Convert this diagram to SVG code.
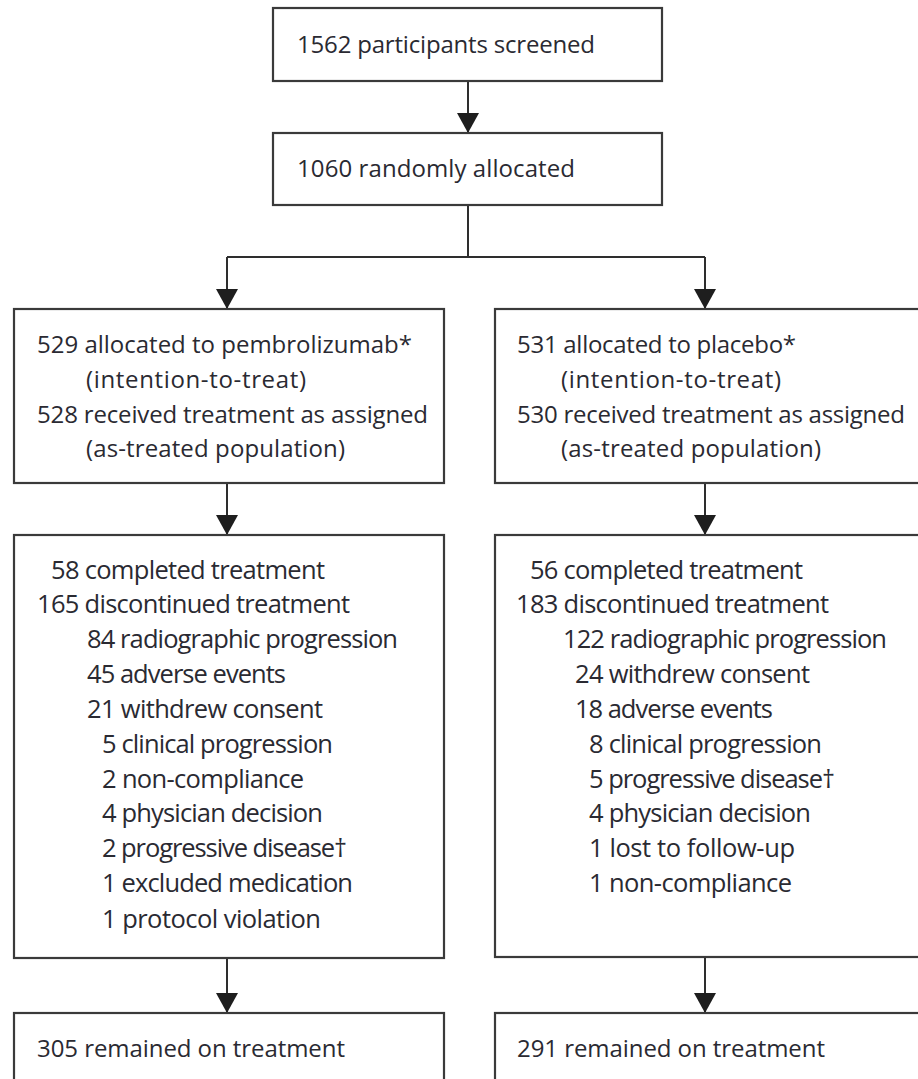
<svg xmlns="http://www.w3.org/2000/svg" width="918" height="1079" viewBox="0 0 918 1079">
<style>
.box{fill:#fff;stroke:#3a3a3a;stroke-width:2.2}
.ln{fill:none;stroke:#2e2e2e;stroke-width:2}
text{font-family:"Open Sans","Noto Sans","Liberation Sans",sans-serif;fill:#2a2a32;font-size:24px}
.b4 text{font-size:25.5px}
</style>
<defs>
<marker id="ah" markerUnits="userSpaceOnUse" markerWidth="24" markerHeight="22" refX="20" refY="11" orient="auto" viewBox="0 0 24 22">
<path d="M0,0 L20,11 L0,22 Z" fill="#1e1e1e"/>
</marker>
</defs>
<rect width="918" height="1079" fill="#fff"/>
<g id="connectors">
<path class="ln" d="M468,81V133" marker-end="url(#ah)"/>
<path class="ln" d="M468,205V257"/>
<path class="ln" d="M227,257H705"/>
<path class="ln" d="M227,257V309" marker-end="url(#ah)"/>
<path class="ln" d="M705,257V309" marker-end="url(#ah)"/>
<path class="ln" d="M227,483V535" marker-end="url(#ah)"/>
<path class="ln" d="M705,483V535" marker-end="url(#ah)"/>
<path class="ln" d="M227,958V1013" marker-end="url(#ah)"/>
<path class="ln" d="M705,957V1013" marker-end="url(#ah)"/>
</g>
<g id="screened">
<rect class="box" x="273" y="8" width="389" height="73"/>
<text x="297" y="53" textLength="298">1562 participants screened</text>
</g>
<g id="randomised">
<rect class="box" x="273" y="133" width="389" height="72"/>
<text x="297" y="177" textLength="278">1060 randomly allocated</text>
</g>
<g id="alloc-pembro">
<rect class="box" x="14" y="309" width="430" height="174"/>
<text x="37" y="353" textLength="375">529 allocated to pembrolizumab*</text>
<text x="86" y="388" textLength="220">(intention-to-treat)</text>
<text x="37" y="423" textLength="391">528 received treatment as assigned</text>
<text x="86" y="457" textLength="259">(as-treated population)</text>
</g>
<g id="alloc-placebo">
<rect class="box" x="495" y="309" width="432" height="174"/>
<text x="517" y="353" textLength="279">531 allocated to placebo*</text>
<text x="561" y="388" textLength="220">(intention-to-treat)</text>
<text x="517" y="423" textLength="388">530 received treatment as assigned</text>
<text x="561" y="457" textLength="260">(as-treated population)</text>
</g>
<g id="followup-pembro" class="b4">
<rect class="box" x="14" y="535" width="430" height="423"/>
<text x="51" y="579" textLength="274">58 completed treatment</text>
<text x="37" y="613" textLength="313">165 discontinued treatment</text>
<text x="87" y="648" textLength="311">84 radiographic progression</text>
<text x="87" y="683" textLength="199">45 adverse events</text>
<text x="87" y="718" textLength="236">21 withdrew consent</text>
<text x="102" y="753" textLength="231">5 clinical progression</text>
<text x="102" y="788" textLength="202">2 non-compliance</text>
<text x="102" y="822" textLength="221">4 physician decision</text>
<text x="102" y="857" textLength="245">2 progressive disease†</text>
<text x="102" y="892" textLength="251">1 excluded medication</text>
<text x="102" y="928" textLength="219">1 protocol violation</text>
</g>
<g id="followup-placebo" class="b4">
<rect class="box" x="495" y="535" width="432" height="422"/>
<text x="530" y="579" textLength="273">56 completed treatment</text>
<text x="516" y="613" textLength="313">183 discontinued treatment</text>
<text x="563" y="648" textLength="324">122 radiographic progression</text>
<text x="575" y="683" textLength="235">24 withdrew consent</text>
<text x="575" y="718" textLength="198">18 adverse events</text>
<text x="589" y="753" textLength="233">8 clinical progression</text>
<text x="589" y="788" textLength="246">5 progressive disease†</text>
<text x="589" y="822" textLength="222">4 physician decision</text>
<text x="589" y="857" textLength="206">1 lost to follow-up</text>
<text x="589" y="892" textLength="203">1 non-compliance</text>
</g>
<g id="remained-pembro">
<rect class="box" x="14" y="1013" width="430" height="80"/>
<text x="37" y="1057" textLength="308">305 remained on treatment</text>
</g>
<g id="remained-placebo">
<rect class="box" x="495" y="1013" width="432" height="80"/>
<text x="517" y="1057" textLength="308">291 remained on treatment</text>
</g>
</svg>
